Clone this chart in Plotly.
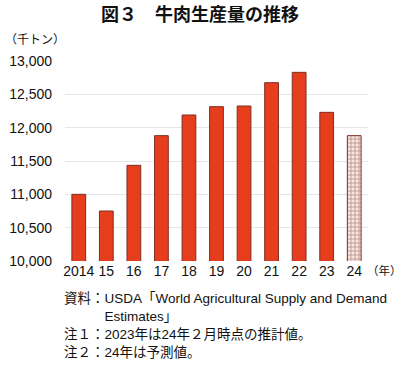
import plotly.graph_objects as go

years = ["2014", "15", "16", "17", "18", "19", "20", "21", "22", "23", "24"]
production = [11000, 10750, 11435, 11880, 12190, 12315, 12325, 12675, 12830, 12230, 11880]
forecast_flags = [False] * 10 + [True]
y_ticks = [10000, 10500, 11000, 11500, 12000, 12500, 13000]

title_text = "図３　牛肉生産量の推移"
unit_text = "（千トン）"
year_unit = "（年）"
notes = [
    "資料：USDA「World Agricultural Supply and Demand",
    "　　　Estimates」",
    "注１：2023年は24年２月時点の推計値。",
    "注２：24年は予測値。",
]

FONT = "Liberation Sans, Arial, Noto Sans CJK JP, sans-serif"
RED = "#E63E1C"
EDGE = "#7E2E22"

fills = ["#FFE2DA" if f else RED for f in forecast_flags]
shapes = ["+" if f else "" for f in forecast_flags]

fig = go.Figure()
fig.add_trace(go.Bar(
    x=years, y=production, width=0.5,
    marker=dict(
        color=fills,
        line=dict(color=EDGE, width=1),
        pattern=dict(shape=shapes, fgcolor="#EC3A1E", bgcolor="#FFE6DF", size=4, solidity=0.35),
    ),
    showlegend=False,
))

W, H = 400, 369
L, R, T, B = 65, 32, 61, 108
pw, ph = W - L - R, H - T - B

def px_x(px):
    return (px - L) / pw

def px_y(py):
    return (H - B - py) / ph

annotations = [
    dict(text=title_text, x=px_x(200), y=px_y(13), xref="paper", yref="paper",
         showarrow=False, font=dict(size=18, family="Noto Sans CJK JP", color="#111", weight="bold"),
         xanchor="center", yanchor="middle"),
    dict(text=unit_text, x=px_x(3), y=px_y(38), xref="paper", yref="paper",
         showarrow=False, font=dict(size=12, family="Noto Sans CJK JP", color="#111"),
         xanchor="left", yanchor="middle"),
    dict(text=year_unit, x=px_x(365), y=px_y(270), xref="paper", yref="paper",
         showarrow=False, font=dict(size=11.5, family="Noto Sans CJK JP", color="#111"),
         xanchor="left", yanchor="middle"),
]
for i, line in enumerate(notes):
    annotations.append(dict(
        text=line, x=px_x(62), y=px_y(298 + 18 * i), xref="paper", yref="paper",
        showarrow=False, font=dict(size=13.5, family=FONT, color="#111"),
        xanchor="left", yanchor="middle"))

fig.update_layout(
    width=W, height=H,
    margin=dict(l=L, r=R, t=T, b=B, pad=0, autoexpand=False),
    paper_bgcolor="white", plot_bgcolor="white",
    font=dict(family=FONT, color="#111"),
    bargap=0.5,
    annotations=annotations,
    xaxis=dict(
        type="category", showgrid=False, showline=False, zeroline=False,
        tickfont=dict(size=14, family=FONT, color="#111"),
        ticks="", ticklabelstandoff=0, automargin=False,
    ),
    yaxis=dict(
        range=[10000, 13000], tickvals=y_ticks, tickformat=",",
        showgrid=True, gridcolor="#E6E6E6", gridwidth=1,
        showline=False, zeroline=False,
        tickfont=dict(size=14, family=FONT, color="#111"),
        ticks="", ticklabelstandoff=12, automargin=False,
    ),
)

fig.write_html("out.html", config={"displayModeBar": False},
               post_script="document.body.style.margin='0';")
